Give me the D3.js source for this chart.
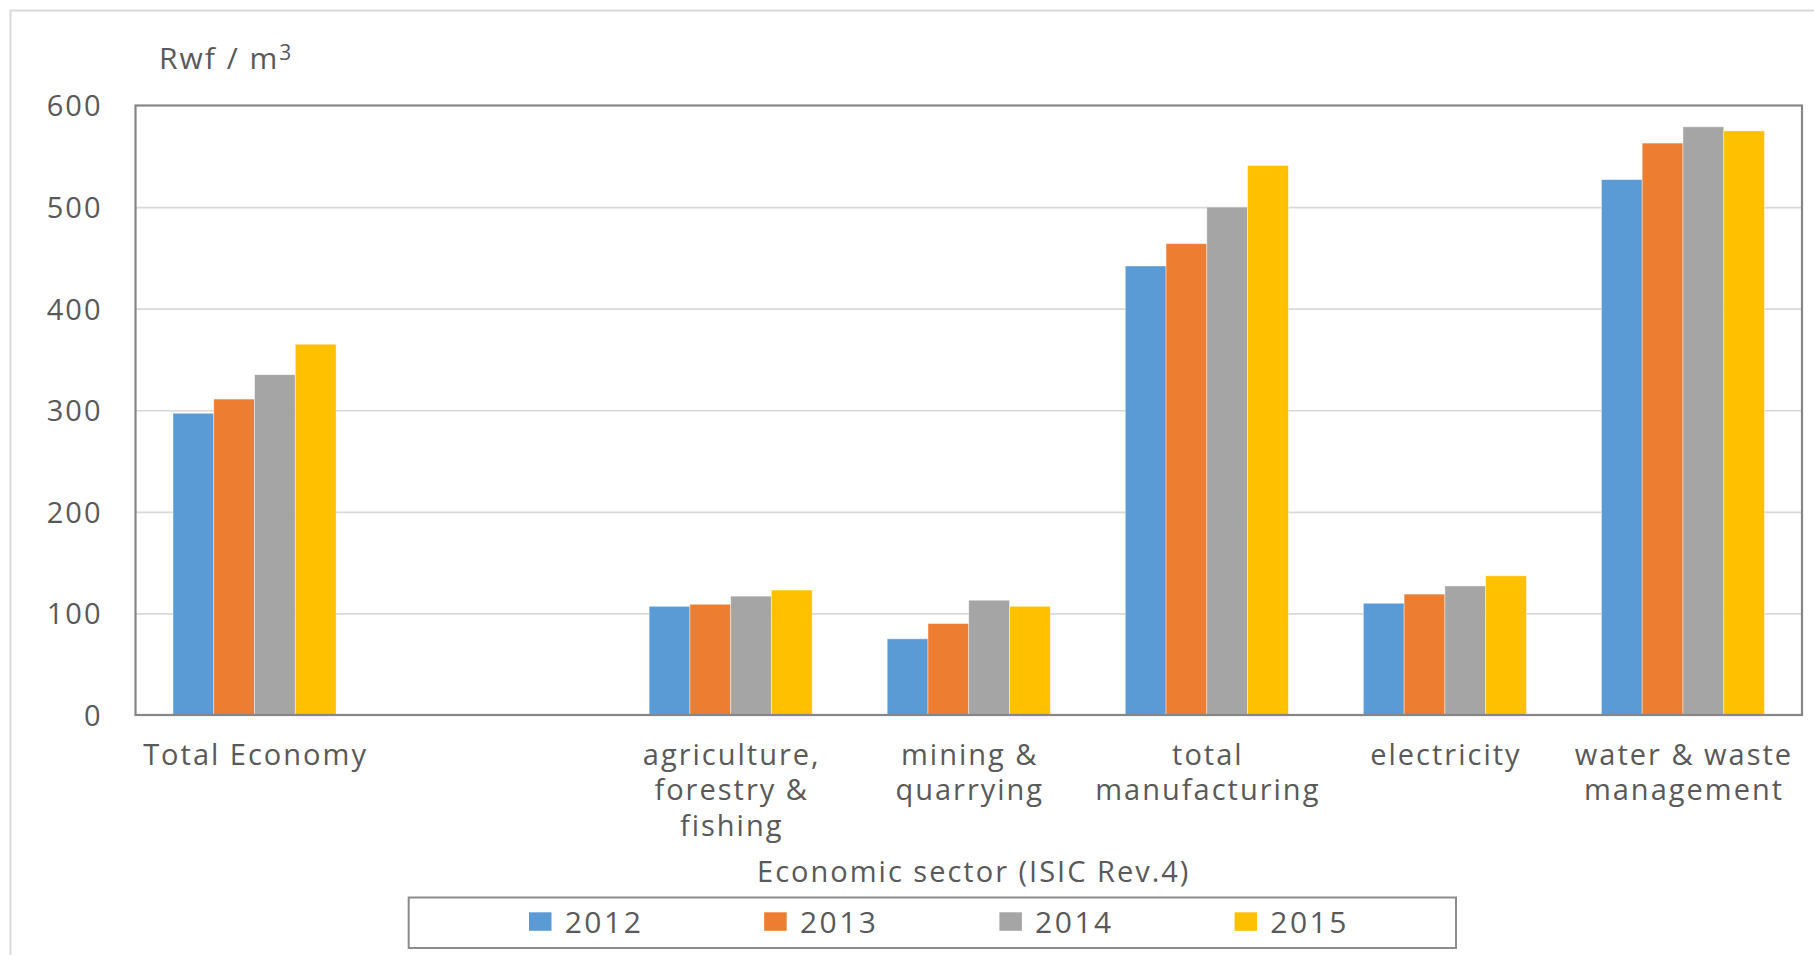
<!DOCTYPE html>
<html>
<head>
<meta charset="utf-8">
<script src="https://cdn.jsdelivr.net/npm/d3@7"></script>
<style>
  html, body { margin: 0; padding: 0; background: #ffffff; }
  svg { display: block; }
  text { font-family: "Open Sans", "DejaVu Sans", sans-serif; fill: #595959; }
</style>
</head>
<body>
<script>
// ---- data ----
const categories = [
  "Total Economy",
  "",
  "agriculture,\nforestry &\nfishing",
  "mining &\nquarrying",
  "total\nmanufacturing",
  "electricity",
  "water & waste\nmanagement"
];
const years = ["2012", "2013", "2014", "2015"];
const values2012 = [297, null, 107, 75, 442, 110, 527];
const values2013 = [311, null, 109, 90, 464, 119, 563];
const values2014 = [335, null, 117, 113, 500, 127, 579];
const values2015 = [365, null, 123, 107, 541, 137, 575];
const seriesValues = [values2012, values2013, values2014, values2015];
const colors = ["#5B9BD5", "#ED7D31", "#A5A5A5", "#FFC000"];
const yTicks = [0, 100, 200, 300, 400, 500, 600];
const yUnitLabel = "Rwf / m";
const yUnitSup = "3";
const xAxisTitle = "Economic sector (ISIC Rev.4)";

// ---- layout ----
const W = 1814, H = 955;
const plot = { left: 135.5, right: 1802, top: 105.5, bottom: 715 };
const FS = 29, LS = 2;

const svg = d3.select("body").append("svg").attr("width", W).attr("height", H);
svg.append("rect").attr("width", W).attr("height", H).attr("fill", "#ffffff");

// outer chart border
svg.append("rect")
  .attr("x", 10.5).attr("y", 10.5).attr("width", W + 20).attr("height", H + 20)
  .attr("fill", "none").attr("stroke", "#d9d9d9").attr("stroke-width", 2);

const x0 = d3.scaleBand()
  .domain(d3.range(categories.length))
  .range([plot.left, plot.right])
  .paddingInner(0.315)
  .paddingOuter(0.1575);
const x1 = d3.scaleBand().domain(years).range([0, x0.bandwidth()]);
const y = d3.scaleLinear().domain([0, 600]).range([plot.bottom, plot.top]);

// gridlines
const grid = svg.append("g")
  .attr("transform", `translate(${plot.left},0)`)
  .call(d3.axisLeft(y).tickValues(yTicks.filter(t => t > 0 && t < 600))
    .tickSize(-(plot.right - plot.left)).tickFormat(""));
grid.select(".domain").remove();
grid.selectAll(".tick line").attr("stroke", "#d9d9d9").attr("stroke-width", 1.6);

// bars
const rows = [];
categories.forEach((c, i) => {
  years.forEach((yr, s) => {
    const v = seriesValues[s][i];
    if (v !== null) rows.push({ i, yr, s, v });
  });
});
svg.append("g").selectAll("rect").data(rows).join("rect")
  .attr("x", d => x0(d.i) + x1(d.yr))
  .attr("y", d => y(d.v))
  .attr("width", x1.bandwidth())
  .attr("height", d => y(0) - y(d.v))
  .attr("fill", d => colors[d.s])
  .attr("stroke", "#ffffff").attr("stroke-opacity", 0.5).attr("stroke-width", 0.8);

// plot border
svg.append("rect")
  .attr("x", plot.left).attr("y", plot.top)
  .attr("width", plot.right - plot.left).attr("height", plot.bottom - plot.top)
  .attr("fill", "none").attr("stroke", "#868686").attr("stroke-width", 2.2);

// y axis labels
const yAxis = svg.append("g")
  .attr("transform", `translate(${plot.left},0)`)
  .call(d3.axisLeft(y).tickValues(yTicks).tickSize(0).tickPadding(33));
yAxis.select(".domain").remove();
yAxis.selectAll("text")
  .attr("dy", "0.36em")
  .style("font-size", FS + "px")
  .style("letter-spacing", LS + "px")
  .style("font-family", "'Open Sans', sans-serif")
  .attr("fill", "#595959");

// unit label
const unit = svg.append("text")
  .attr("x", 159).attr("y", 69.3)
  .style("font-size", "30px").style("letter-spacing", "2px");
unit.append("tspan").text(yUnitLabel);
unit.append("tspan").attr("dy", -9).style("font-size", "21px").text(yUnitSup);

// category labels
const lineGap = 35.5;
const catG = svg.append("g").selectAll("text").data(categories).join("text")
  .attr("text-anchor", "middle")
  .attr("transform", (d, i) => `translate(${x0(i) + x0.bandwidth() / 2 + 1},764.5)`)
  .style("font-size", FS + "px").style("letter-spacing", LS + "px");
catG.each(function(d) {
  const lines = d.split("\n");
  d3.select(this).selectAll("tspan").data(lines).join("tspan")
    .attr("x", 0).attr("y", (l, k) => k * lineGap).text(l => l);
});

// x axis title
svg.append("text")
  .attr("x", (plot.left + plot.right) / 2 + 5).attr("y", 881.5)
  .attr("text-anchor", "middle")
  .style("font-size", FS + "px").style("letter-spacing", LS + "px")
  .text(xAxisTitle);

// legend
svg.append("rect")
  .attr("x", 408.7).attr("y", 897.5).attr("width", 1047.3).attr("height", 50.5)
  .attr("fill", "none").attr("stroke", "#8c8c8c").attr("stroke-width", 2);
const lx = d3.scaleBand().domain(years).range([529, 529 + 4 * 235.2]);
const li = svg.append("g").selectAll("g").data(years).join("g")
  .attr("transform", d => `translate(${lx(d)},0)`);
li.append("rect")
  .attr("x", 0).attr("y", 912.3).attr("width", 22.5).attr("height", 18.5)
  .attr("fill", (d, i) => colors[i]);
li.append("text")
  .attr("x", 35.7).attr("y", 932.7)
  .style("font-size", "30px").style("letter-spacing", "2.5px")
  .text(d => d);
</script>
</body>
</html>
